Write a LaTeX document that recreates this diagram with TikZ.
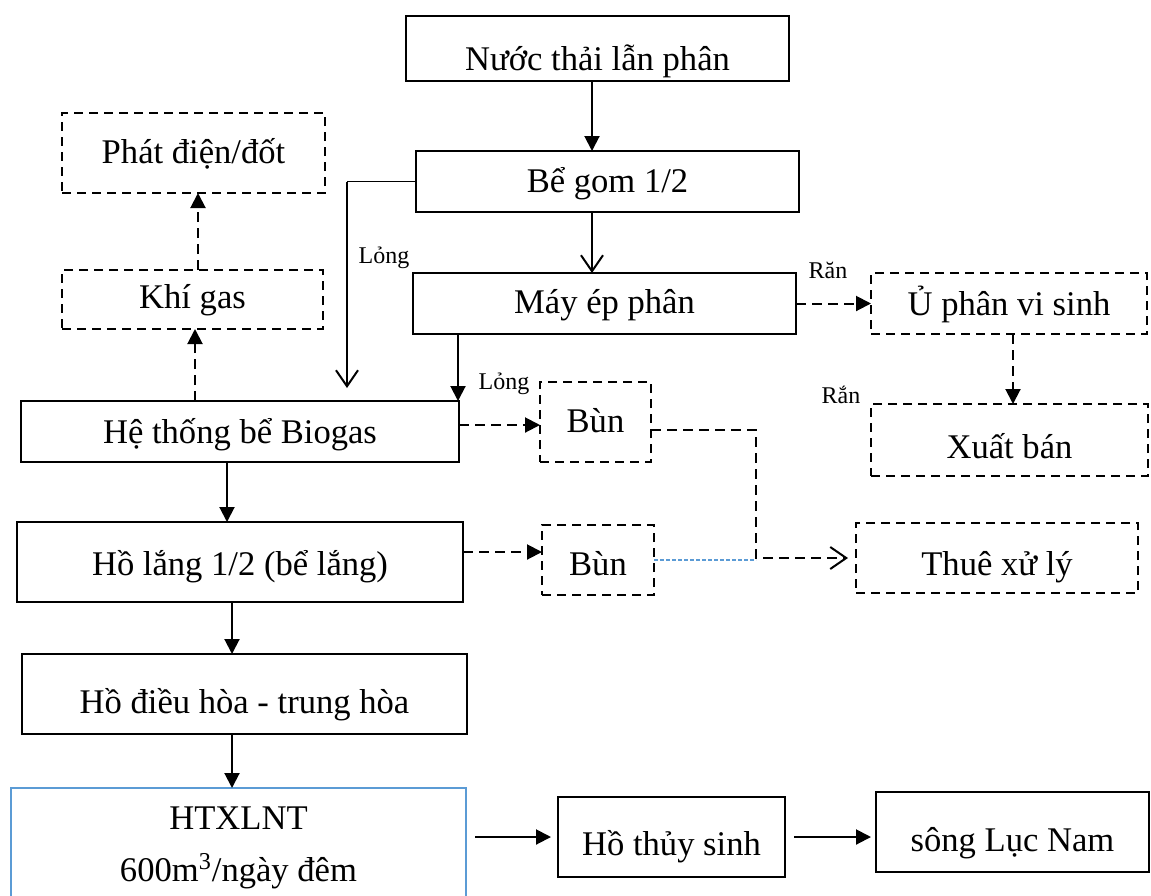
\documentclass[tikz,border=0pt]{standalone}
\usepackage{fontspec}
\setmainfont{Liberation Serif}
\usetikzlibrary{arrows.meta}
\definecolor{edgeblue}{HTML}{5B9BD5}
\begin{document}
\begin{tikzpicture}[x=0.5pt,y=-0.5pt,
  every node/.style={inner sep=0pt, outer sep=0pt},
  box/.style={draw, line width=1pt, align=center,
    font=\fontsize{17.3}{20}\selectfont, text depth=0pt},
  % bl = how far the baseline sits below the box centre (in px units)
  bl/.style={text height=#1},
  dbox/.style={box, dash pattern=on 4.5pt off 3pt},
  lbl/.style={font=\fontsize{12}{14}\selectfont},
  arr/.style={line width=1pt, -{Triangle[length=7.5pt,width=7.5pt]}},
  darr/.style={arr, dash pattern=on 5pt off 3pt},
  oarr/.style={line width=1pt, -{Straight Barb[length=8pt,width=11pt,line width=1pt]}},
  doarr/.style={oarr, dash pattern=on 5pt off 3pt},
]
\useasboundingbox (0,0) rectangle (1151,895);
\clip (0,0) rectangle (1151,895);

% main treatment line
\node[box, bl=21.5pt, minimum width=191.5pt, minimum height=32.5pt] (nuoc) at (597.5,48.5) {Nước thải lẫn phân};
\node[box, bl=10.5pt, minimum width=191.5pt, minimum height=30.5pt] (begom) at (607.5,181.5) {Bể gom 1/2};
\node[box, bl=10pt, minimum width=191.5pt, minimum height=30.5pt] (mayep) at (604.5,303.5) {Máy ép phân};
\node[box, bl=11.5pt, minimum width=219pt, minimum height=30.5pt] (biogas) at (240,431.5) {Hệ thống bể Biogas};
\node[box, bl=13pt, minimum width=223pt, minimum height=40pt] (holang) at (240,562) {Hồ lắng 1/2 (bể lắng)};
\node[box, bl=19pt, minimum width=222.5pt, minimum height=40pt] (dieuhoa) at (244.5,694) {Hồ điều hòa - trung hòa};
\node[draw=edgeblue, line width=0.8pt, minimum width=227.5pt, minimum height=65pt, anchor=north] (htxl) at (238.5,788) {};
\node[align=center, font=\fontsize{17.3}{26}\selectfont] (htxltext) at (238.5,848) {HTXLNT\\600m\textsuperscript{3}/ngày đêm};
\node[box, bl=18pt, minimum width=113.5pt, minimum height=40pt] (thuysinh) at (671.5,837) {Hồ thủy sinh};
\node[box, bl=19pt, minimum width=136.5pt, minimum height=40pt] (song) at (1012.5,832) {sông Lục Nam};

% side products (dashed)
\node[dbox, bl=10pt, minimum width=131.5pt, minimum height=40pt] (phat) at (193.5,153) {Phát điện/đốt};
\node[dbox, bl=9pt, minimum width=130.5pt, minimum height=29.5pt] (khigas) at (192.5,299.5) {Khí gas};
\node[dbox, bl=10pt, minimum width=55.5pt, minimum height=40pt] (bun1) at (595.5,422) {Bùn};
\node[dbox, bl=15pt, minimum width=56pt, minimum height=35pt] (bun2) at (598,560) {Bùn};
\node[dbox, bl=11.5pt, minimum width=138pt, minimum height=30.5pt] (uphan) at (1009,303.5) {Ủ phân vi sinh};
\node[dbox, bl=18pt, minimum width=138.5pt, minimum height=36pt] (xuatban) at (1009.5,440) {Xuất bán};
\node[dbox, bl=17pt, minimum width=141pt, minimum height=35pt] (thue) at (997,558) {Thuê xử lý};

% small labels
\node[lbl] (long1) at (384,258) {Lỏng};
\node[lbl] (long2) at (504,384) {Lỏng};
\node[lbl] (ran1) at (828,270) {Răn};
\node[lbl] (ran2) at (841,395) {Rắn};

% helper coordinates for connector positions
\coordinate (cx) at (592,0);
\coordinate (lx) at (347,0);
\coordinate (mx) at (458,0);
\coordinate (by) at (0,425);
\coordinate (jx) at (756,430);
\coordinate (hy) at (0,552);
\coordinate (bx) at (227,0);
\coordinate (vx) at (232,0);
\coordinate (ux) at (1013,0);
\coordinate (gx) at (195,0);
\coordinate (px) at (198,0);

% solid connectors
\draw[arr] (nuoc.south -| cx) -- (begom.north -| cx);
\draw[oarr] (begom.south -| cx) -- (mayep.north -| cx);
\draw[line width=0.6pt] (begom.west) -- (begom.west -| lx);
\draw[oarr, shorten >=6.5pt] (begom.west -| lx) -- (biogas.north -| lx);
\draw[arr] (mayep.south -| mx) -- (biogas.north -| mx);
\draw[arr] (biogas.south -| bx) -- (holang.north -| bx);
\draw[arr] (holang.south -| vx) -- (dieuhoa.north -| vx);
\draw[arr] (dieuhoa.south -| vx) -- (htxl.north -| vx);
\draw[arr, shorten <=4.5pt, shorten >=3.5pt] (htxl.east |- thuysinh.west) -- (thuysinh.west);
\draw[arr, shorten <=4.5pt, shorten >=2.5pt] (thuysinh.east) -- (thuysinh.east -| song.west);

% dashed connectors
\draw[darr] (biogas.east |- by) -- (bun1.west |- by);
\draw[doarr, shorten >=4pt] (bun1.east |- jx) -- (jx) |- (thue.west);
\draw[edgeblue, line width=0.6pt, dash pattern=on 2pt off 1pt] (bun2.east) -- (bun2.east -| jx);
\draw[darr] (holang.east |- hy) -- (bun2.west |- hy);
\draw[darr] (mayep.east) -- (uphan.west);
\draw[darr] (uphan.south -| ux) -- (xuatban.north -| ux);
\draw[darr] (biogas.north -| gx) -- (khigas.south -| gx);
\draw[darr] (khigas.north -| px) -- (phat.south -| px);
\end{tikzpicture}
\end{document}
